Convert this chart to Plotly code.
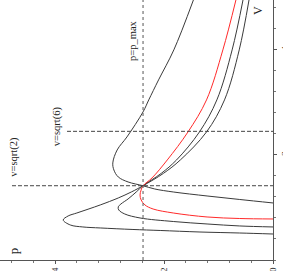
import plotly.graph_objects as go

# Curve data (V, p)
A_V = [0.495, 0.514, 0.533, 0.562, 0.581, 0.610, 0.629, 0.667, 0.762, 0.838, 0.895, 1.048, 1.181, 1.295, 1.414, 1.650, 1.905, 2.438, 3.048, 4.0, 4.952]
A_p = [0.000, 0.061, 0.134, 0.207, 0.257, 0.317, 0.349, 0.372, 0.385, 0.376, 0.360, 0.317, 0.284, 0.260, 0.2385, 0.201, 0.170, 0.122, 0.089, 0.062, 0.044]

B_V = [0.629, 0.648, 0.686, 0.733, 0.800, 0.876, 0.952, 1.010, 1.067, 1.162, 1.295, 1.414, 1.650, 1.905, 2.438, 3.048, 4.0, 4.952]
B_p = [0.000, 0.061, 0.121, 0.183, 0.244, 0.272, 0.283, 0.284, 0.279, 0.266, 0.251, 0.2385, 0.205, 0.177, 0.135, 0.103, 0.075, 0.055]

C_V = [0.781, 0.790, 0.819, 0.895, 0.971, 1.048, 1.143, 1.238, 1.333, 1.414, 1.562, 1.905, 2.438, 3.048, 4.0, 4.952]
C_p = [0.000, 0.061, 0.121, 0.183, 0.220, 0.235, 0.242, 0.244, 0.242, 0.2385, 0.222, 0.194, 0.156, 0.122, 0.092, 0.068]

D_V = [1.086, 1.152, 1.219, 1.295, 1.352, 1.414, 1.486, 1.581, 1.714, 1.848, 2.095, 2.343, 2.819, 3.048, 3.429, 4.0, 4.952]
D_p = [0.000, 0.061, 0.121, 0.183, 0.217, 0.2385, 0.266, 0.284, 0.292, 0.294, 0.286, 0.268, 0.2385, 0.228, 0.210, 0.182, 0.146]

p_max = 0.2385
v_sqrt2 = 1.4142
v_sqrt6 = 2.4495
V_range = [0, 4.95]
p_range = [0.501, 0]
p_ticks = [0.4, 0.2, 0]
p_ticklabels = ["0.4", "0.2", "0"]
V_ticks = [2, 4]
V_ticklabels = ["2", "4"]

FONT = "Liberation Serif"
dark = "#3a3a3a"

fig = go.Figure()
for pv, vv, col in [(A_p, A_V, dark), (B_p, B_V, dark), (C_p, C_V, "#ff2a2a"), (D_p, D_V, dark)]:
    fig.add_trace(go.Scatter(x=pv, y=vv, mode="lines",
                             line=dict(color=col, width=1, shape="spline", smoothing=1.0),
                             showlegend=False, hoverinfo="skip"))

# reference lines
fig.add_trace(go.Scatter(x=[p_max, p_max], y=V_range, mode="lines",
                         line=dict(color="#555", width=1, dash="dot"), showlegend=False))
fig.add_trace(go.Scatter(x=[0.479, 0], y=[v_sqrt2, v_sqrt2], mode="lines",
                         line=dict(color="#444", width=1, dash="4px,2px"), showlegend=False))
fig.add_trace(go.Scatter(x=[0.378, 0], y=[v_sqrt6, v_sqrt6], mode="lines",
                         line=dict(color="#444", width=1, dash="4px,2px"), showlegend=False))

annots = [
    ("v=sqrt(2)", 0.476, 1.96, 10.5),
    ("v=sqrt(6)", 0.396, 2.55, 10.5),
    ("p=p_max", 0.257, 4.17, 10.5),
    ("p", 0.476, 0.18, 13),
    ("V", 0.0275, 4.74, 12),
]
for t, x, y, s in annots:
    fig.add_annotation(text=t, x=x, y=y, xref="x", yref="y", showarrow=False,
                       textangle=-90, font=dict(family=FONT, size=s, color="#222"),
                       xanchor="center", yanchor="middle")

fig.update_xaxes(range=p_range, showline=True, linecolor="#555", linewidth=1, automargin=False,
                 showgrid=False, zeroline=False, tickvals=p_ticks, ticktext=p_ticklabels,
                 ticks="outside", ticklen=3, tickcolor="#555", tickangle=-90,
                 tickfont=dict(family=FONT, size=9, color="#333"),
                 minor=dict(dtick=0.04, tick0=0, ticks="outside", ticklen=2, tickcolor="#777"))
fig.update_yaxes(range=V_range, side="right", showline=True, linecolor="#555", linewidth=1, automargin=False,
                 showgrid=False, zeroline=False, tickvals=V_ticks, ticktext=V_ticklabels,
                 ticks="outside", ticklen=3, tickcolor="#555", tickangle=-90,
                 tickfont=dict(family=FONT, size=9, color="#333"),
                 minor=dict(dtick=0.4, tick0=0, ticks="outside", ticklen=2, tickcolor="#777"))

fig.update_layout(width=283, height=271, autosize=False,
                  margin=dict(l=0, r=10, t=0, b=11, pad=0),
                  plot_bgcolor="white", paper_bgcolor="white", showlegend=False)
fig.write_html("out.html", config={"displayModeBar": False, "staticPlot": True},
               post_script="document.body.style.margin='0';document.body.style.overflow='hidden';")
